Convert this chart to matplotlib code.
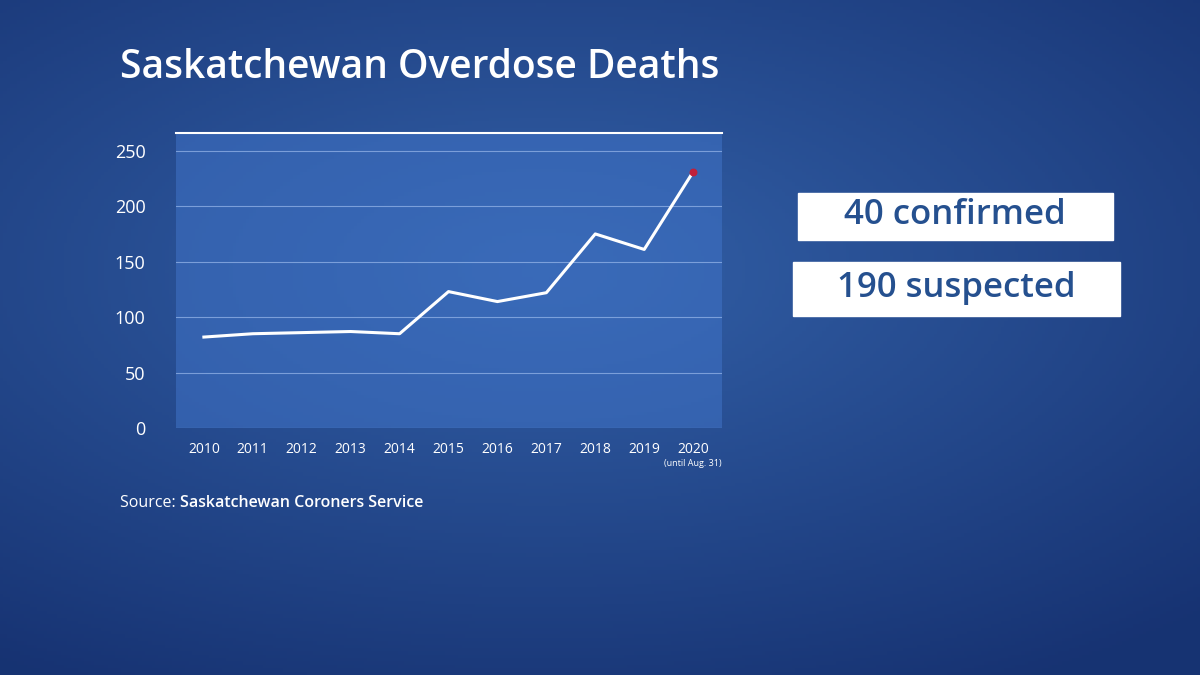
import numpy as np
import matplotlib
matplotlib.use("Agg")
import matplotlib.pyplot as plt
from matplotlib.patches import Rectangle

plt.rcParams["font.family"] = ["Open Sans", "DejaVu Sans"]

years = [2010, 2011, 2012, 2013, 2014, 2015, 2016, 2017, 2018, 2019, 2020]
deaths = [82, 85, 86, 87, 85, 123, 114, 122, 175, 161, 231]
yticks = [0, 50, 100, 150, 200, 250]
xlabels = [str(y) for y in years]

W, H = 1200, 675
fig = plt.figure(figsize=(12, 6.75), dpi=100)

# background gradient
bg = fig.add_axes([0, 0, 1, 1])
yy, xx = np.mgrid[0:1:200j, 0:1:356j]
r = np.sqrt(((xx - 0.45) / 0.8) ** 2 + ((yy - 0.4) / 0.7) ** 2)
r = np.clip(r, 0, 1)
c_in = np.array([0.20, 0.38, 0.66])
c_out = np.array([0.09, 0.20, 0.45])
img = c_in[None, None, :] * (1 - r[..., None]) + c_out[None, None, :] * r[..., None]
bg.imshow(img, extent=[0, W, H, 0], aspect="auto")
bg.set_xlim(0, W); bg.set_ylim(H, 0); bg.axis("off")

# chart axes
l, rgt, top, bot = 176, 722, 133, 428
ax = fig.add_axes([l / W, 1 - bot / H, (rgt - l) / W, (bot - top) / H])
ax.set_facecolor((0.25, 0.45, 0.78, 0.55))
ax.plot(years, deaths, color="white", lw=2.2, zorder=3)
ax.scatter([years[-1]], [deaths[-1]], color="#c0203a", s=22, zorder=4)
ax.set_xlim(2009.43, 2020.59)
ax.set_ylim(0, 266)
ax.set_yticks(yticks)
ax.set_xticks(years)
ax.set_xticklabels(xlabels)
ax.grid(axis="y", color=(0.6, 0.72, 0.92), lw=0.8, alpha=0.7)
ax.tick_params(length=0, colors="white", labelsize=10)
ax.tick_params(axis="y", labelsize=13, pad=22)
ax.tick_params(axis="x", pad=10)
for s in ["left", "right", "bottom"]:
    ax.spines[s].set_visible(False)
ax.spines["top"].set_color("white")
ax.spines["top"].set_linewidth(1.5)

bg.text(693, 463, "(until Aug. 31)", color="white", fontsize=6.5, ha="center", va="center")
bg.text(120, 68, "Saskatchewan Overdose Deaths", color="white", fontsize=28,
        fontweight="semibold", va="center", ha="left")
t = bg.text(120, 503, "Source: ", color="white", fontsize=11.5, va="center", ha="left")
fig.canvas.draw()
bb = t.get_window_extent()
bg.text(120 + bb.width, 503, "Saskatchewan Coroners Service", color="white",
        fontsize=11.5, fontweight="semibold", va="center", ha="left")

# callout boxes
blue = "#25508f"
bg.add_patch(Rectangle((798, 193), 315, 47, color="white", zorder=2))
bg.text(955, 215, "40 confirmed", color=blue, fontsize=25, fontweight="semibold",
        ha="center", va="center", zorder=3)
bg.add_patch(Rectangle((793, 262), 327, 54, color="white", zorder=2))
bg.text(956, 288, "190 suspected", color=blue, fontsize=25, fontweight="semibold",
        ha="center", va="center", zorder=3)

fig.savefig("out.png", dpi=100)
